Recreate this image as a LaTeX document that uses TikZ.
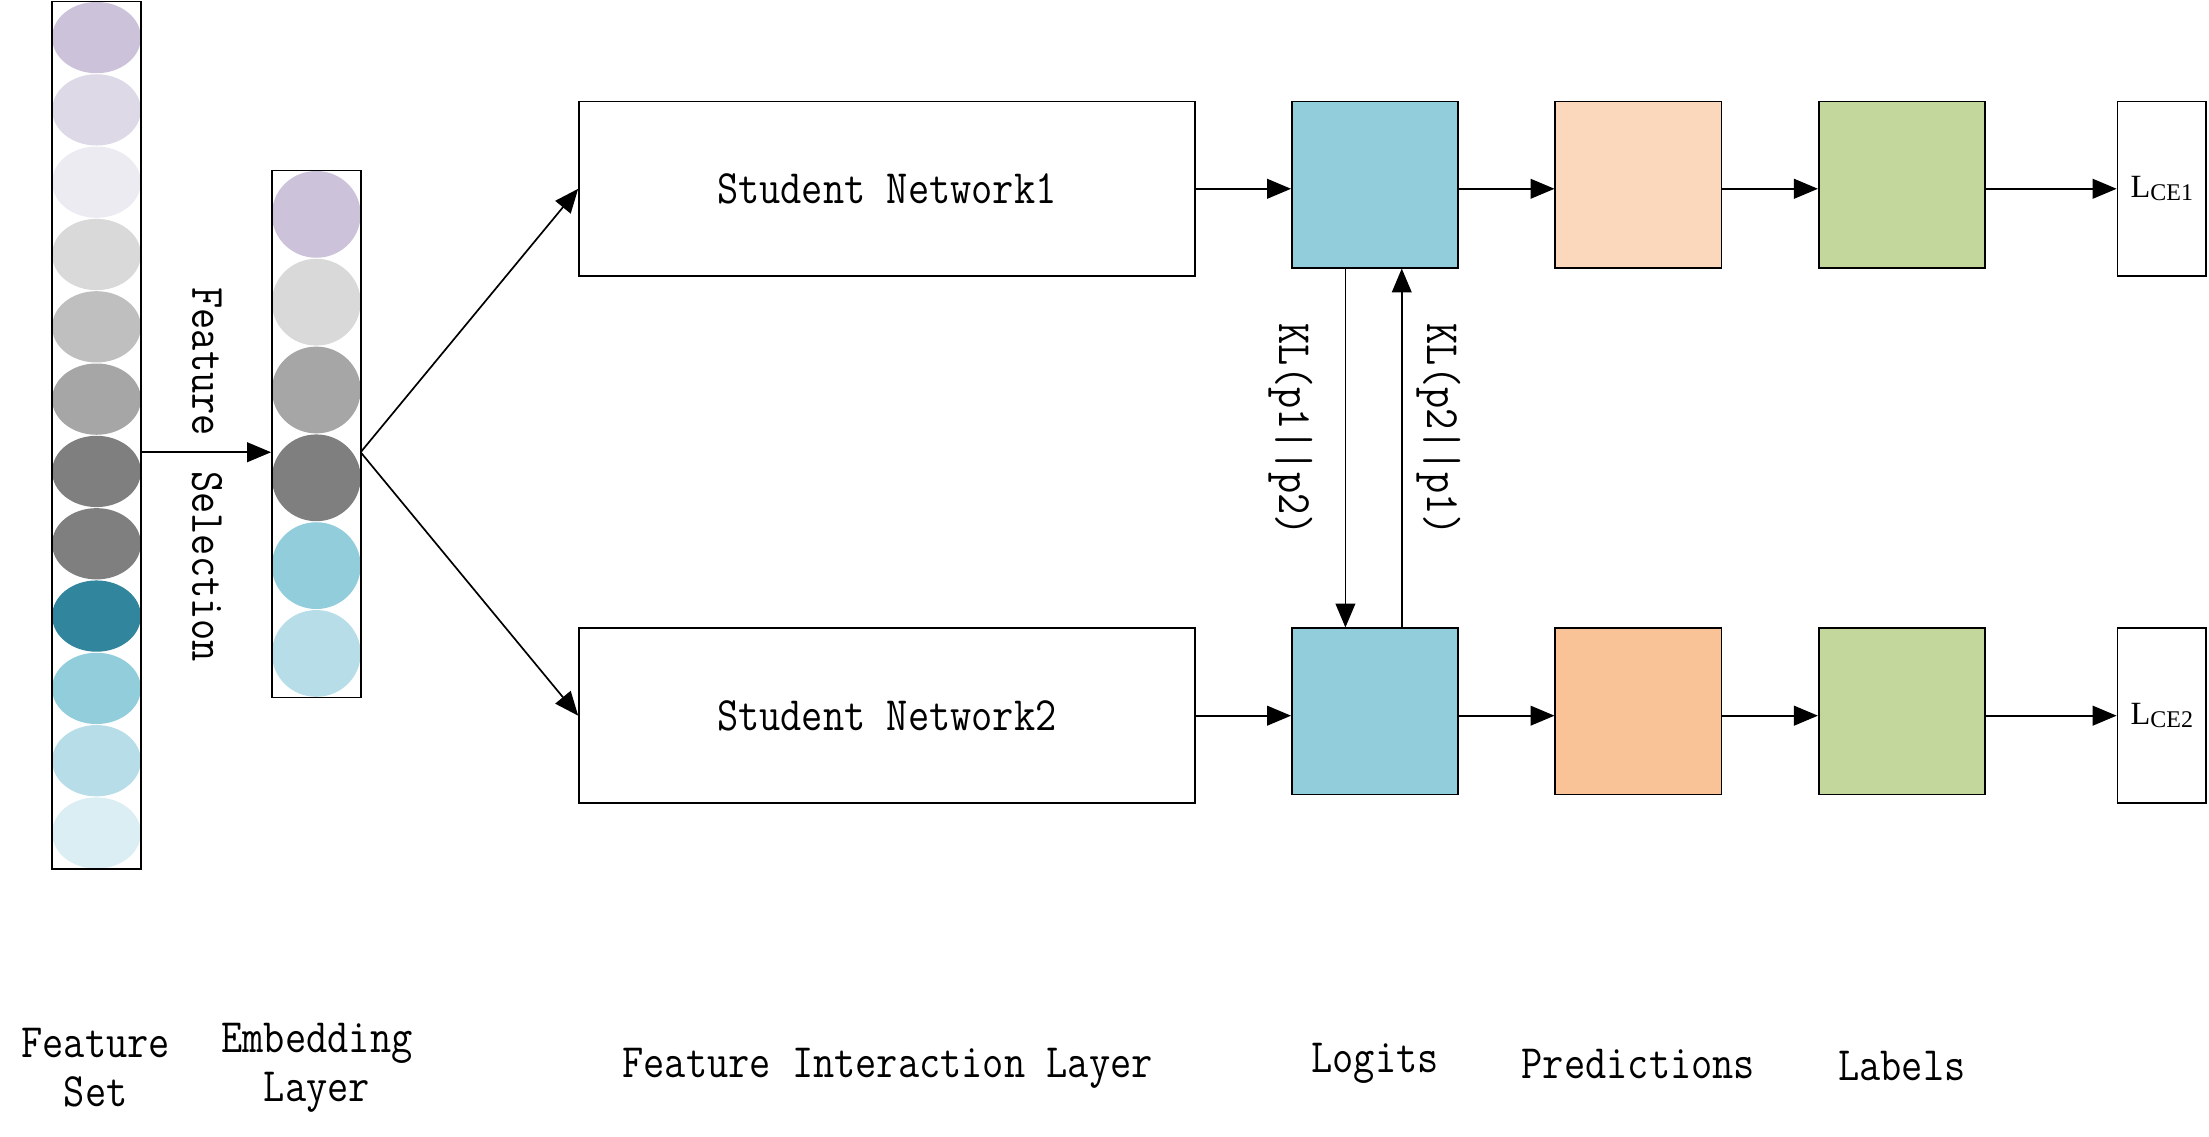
\documentclass[tikz,border=0pt]{standalone}
\usepackage{fontspec}
\setmainfont{Latin Modern Mono}[FakeStretch=0.86]
\newfontfamily\lossfont{Liberation Serif}
\usetikzlibrary{arrows.meta}
\newcommand{\labfont}{\fontsize{34}{35}\selectfont}
\definecolor{lavA}{HTML}{CCC3DB}
\definecolor{lavB}{HTML}{DED9E7}
\definecolor{lavC}{HTML}{EDEBF2}
\definecolor{grayA}{HTML}{D9D9D9}
\definecolor{grayB}{HTML}{BFBFBF}
\definecolor{grayC}{HTML}{A6A6A6}
\definecolor{grayD}{HTML}{7F7F7F}
\definecolor{tealA}{HTML}{31859C}
\definecolor{aquaA}{HTML}{92CDDC}
\definecolor{aquaB}{HTML}{B7DEE8}
\definecolor{aquaC}{HTML}{DBEEF4}
\definecolor{peachA}{HTML}{FBD8BB}
\definecolor{peachB}{HTML}{F9C397}
\definecolor{oliveA}{HTML}{C3D69B}
\tikzset{every picture/.style={line width=1.2pt}}
\tikzset{
	box/.style={draw, rectangle, inner sep=0pt},
	netbox/.style={box, minimum width=437pt, minimum height=124pt, font=\labfont},
	sqbox/.style={box, minimum width=118pt, minimum height=118pt},
	lossbox/.style={box, minimum width=63pt, minimum height=124pt},
	colbox/.style={box, minimum width=63pt},
	arr/.style={-{Triangle[length=17pt,width=14pt]}},
	caption/.style={font=\labfont, align=center, inner sep=0pt}}

\begin{document}
\begin{tikzpicture}[x=1pt,y=1pt,yscale=-1,xscale=1]
	\useasboundingbox (0,0) rectangle (1568,806.4);

	%Shape: Ellipses of the feature set
	\foreach \c [count=\i] in {lavA,lavB,lavC,grayA,grayB,grayC,grayD,grayD,tealA,aquaA,aquaB,aquaC}
		\fill [\c] (68.5,{1+51.33*(\i-0.5)}) ellipse [x radius=31.5, y radius=25.3];
	%Shape: Ellipses of the embedding layer
	\foreach \c [count=\i] in {lavA,grayA,grayC,grayD,aquaA,aquaB}
		\fill [\c] (224.5,{121+62.33*(\i-0.5)}) ellipse [x radius=31.5, y radius=30.8];

	%Shape: Rectangle [feature set]
	\node [colbox, minimum height=616pt] (fs) at (68.5,309) {};
	%Shape: Rectangle [embedding layer]
	\node [colbox, minimum height=374pt] (emb) at (224.5,308) {};

	%Shape: Rectangle [student networks]
	\node [netbox] (sn1) at (629.5,134) {Student Network1};
	\node [netbox] (sn2) at (629.5,508) {Student Network2};

	%Shape: Square [logits]
	\node [sqbox, fill=aquaA] (lg1) at (976,131) {};
	\node [sqbox, fill=aquaA] (lg2) at (976,505) {};
	%Shape: Square [predictions]
	\node [sqbox, fill=peachA] (pr1) at (1163,131) {};
	\node [sqbox, fill=peachB] (pr2) at (1163,505) {};
	%Shape: Square [labels]
	\node [sqbox, fill=oliveA] (lb1) at (1350,131) {};
	\node [sqbox, fill=oliveA] (lb2) at (1350,505) {};

	%Shape: Rectangle [losses]
	\node [lossbox] (ce1) at (1534.5,134) {\lossfont\fontsize{23}{24}\selectfont L\raisebox{-2pt}{\fontsize{17}{18}\selectfont CE1}};
	\node [lossbox] (ce2) at (1534.5,508) {\lossfont\fontsize{23}{24}\selectfont L\raisebox{-2pt}{\fontsize{17}{18}\selectfont CE2}};

	%Straight Lines [feature selection]
	\coordinate (fork) at (256,321);
	\draw [arr] (fork -| fs.east) -- (fork -| emb.west);
	\draw [arr] (fork) -- (sn1.west);
	\draw [arr] (fork) -- (sn2.west);

	%Straight Lines [upper row]
	\draw [arr] (sn1.east) -- (sn1.east -| lg1.west);
	\draw [arr] (sn1.east -| lg1.east) -- (sn1.east -| pr1.west);
	\draw [arr] (sn1.east -| pr1.east) -- (sn1.east -| lb1.west);
	\draw [arr] (sn1.east -| lb1.east) -- (ce1.west);
	%Straight Lines [lower row]
	\draw [arr] (sn2.east) -- (sn2.east -| lg2.west);
	\draw [arr] (sn2.east -| lg2.east) -- (sn2.east -| pr2.west);
	\draw [arr] (sn2.east -| pr2.east) -- (sn2.east -| lb2.west);
	\draw [arr] (sn2.east -| lb2.east) -- (ce2.west);

	%Straight Lines [mutual KL]
	\draw [arr] ([xshift=-21pt]lg1.south) -- ([xshift=-21pt]lg2.north);
	\draw [arr] ([xshift=19pt]lg2.north) -- ([xshift=19pt]lg1.south);

	% Text Node
	\node [caption, rotate=-90] (fsel) at (147,337) {Feature\hspace{10pt} Selection};
	% Text Node
	\node [caption, rotate=-90] (kl12) at (916,305) {KL(p1||p2)};
	% Text Node
	\node [caption, rotate=-90] (kl21) at (1021,305) {KL(p2||p1)};

	% Text Node
	\node [caption] (capfs) at (68,758) {Feature\\Set};
	% Text Node
	\node [caption] (capemb) at (225,758) {Embedding\\Layer};
	% Text Node
	\node [caption] (capfi) at (630,758) {Feature Interaction Layer};
	% Text Node
	\node [caption] (caplg) at (976,755) {Logits};
	% Text Node
	\node [caption] (cappr) at (1163,755) {Predictions};
	% Text Node
	\node [caption] (caplb) at (1350,757) {Labels};

\end{tikzpicture}
\end{document}
